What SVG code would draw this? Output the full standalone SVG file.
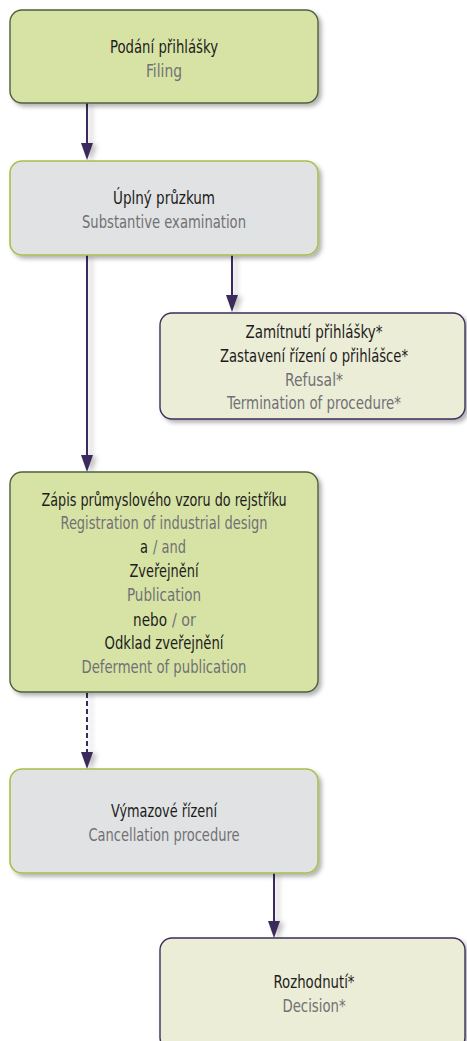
<svg xmlns="http://www.w3.org/2000/svg" width="467" height="1041" viewBox="0 0 467 1041">
<style>
text{font-family:"Liberation Sans Narrow","DejaVu Sans Condensed","Liberation Sans",sans-serif;font-size:18.5px;text-anchor:middle}
text.s{text-anchor:start}
.k{fill:#1c1c1c}
.g{fill:#707174}
.green rect{fill:#d7e3a5;stroke:#4f5f3c;stroke-width:1.4}
.grey rect{fill:#e1e2e3;stroke:#a7c04a;stroke-width:1.6}
.pale rect{fill:#ecedd7;stroke:#3c2e5a;stroke-width:1.4}
.conn line{stroke:#3b2a5c;stroke-width:2;fill:none}
.conn path{fill:#3b2a5c}
.conn .dash{stroke-dasharray:5 3}
</style>
<defs>
<filter id="sh" x="-10%" y="-10%" width="130%" height="130%">
<feDropShadow dx="3" dy="3" stdDeviation="2" flood-color="#000" flood-opacity="0.3"/>
</filter>
<filter id="ash" x="-100%" y="-10%" width="400%" height="130%">
<feDropShadow dx="4" dy="2" stdDeviation="2.5" flood-color="#000" flood-opacity="0.25"/>
</filter>
</defs>

<g id="connectors" class="conn" filter="url(#ash)">
<line x1="87" y1="103" x2="87" y2="144"/>
<path d="M81,143 L93,143 L87,160 Z"/>
<line x1="232" y1="255" x2="232" y2="296"/>
<path d="M226,295 L238,295 L232,312 Z"/>
<line x1="87" y1="255" x2="87" y2="456"/>
<path d="M81,455 L93,455 L87,472 Z"/>
<line class="dash" x1="87" y1="693" x2="87" y2="753"/>
<path d="M81,752 L93,752 L87,769 Z"/>
<line x1="274" y1="873" x2="274" y2="922"/>
<path d="M268,921 L280,921 L274,938 Z"/>
</g>

<g id="filing" class="green">
<rect x="10" y="10" width="308" height="93" rx="12" filter="url(#sh)"/>
<text class="k" x="164" y="53" textLength="108" lengthAdjust="spacingAndGlyphs">Podání přihlášky</text>
<text class="g" x="164" y="77" textLength="36" lengthAdjust="spacingAndGlyphs">Filing</text>
</g>

<g id="examination" class="grey">
<rect x="10" y="161" width="308" height="94" rx="12" filter="url(#sh)"/>
<text class="k" x="164" y="204" textLength="102" lengthAdjust="spacingAndGlyphs">Úplný průzkum</text>
<text class="g" x="164" y="228" textLength="164" lengthAdjust="spacingAndGlyphs">Substantive examination</text>
</g>

<g id="refusal" class="pale">
<rect x="160" y="313" width="305" height="106" rx="12" filter="url(#sh)"/>
<text class="k" x="314" y="338" textLength="137" lengthAdjust="spacingAndGlyphs">Zamítnutí přihlášky*</text>
<text class="k" x="314" y="362" textLength="188" lengthAdjust="spacingAndGlyphs">Zastavení řízení o přihlášce*</text>
<text class="g" x="314" y="386" textLength="58" lengthAdjust="spacingAndGlyphs">Refusal*</text>
<text class="g" x="314" y="409" textLength="174" lengthAdjust="spacingAndGlyphs">Termination of procedure*</text>
</g>

<g id="registration" class="green">
<rect x="10" y="472" width="308" height="220" rx="12" filter="url(#sh)"/>
<text class="k" x="164" y="506" textLength="245" lengthAdjust="spacingAndGlyphs">Zápis průmyslového vzoru do rejstříku</text>
<text class="g" x="164" y="529" textLength="207" lengthAdjust="spacingAndGlyphs">Registration of industrial design</text>
<text class="k s" x="140" y="553" textLength="8" lengthAdjust="spacingAndGlyphs">a</text>
<text class="g s" x="153" y="553" textLength="33" lengthAdjust="spacingAndGlyphs">/ and</text>
<text class="k" x="164" y="577" textLength="69" lengthAdjust="spacingAndGlyphs">Zveřejnění</text>
<text class="g" x="164" y="601" textLength="74" lengthAdjust="spacingAndGlyphs">Publication</text>
<text class="k s" x="133" y="626" textLength="34" lengthAdjust="spacingAndGlyphs">nebo</text>
<text class="g s" x="172" y="626" textLength="24" lengthAdjust="spacingAndGlyphs">/ or</text>
<text class="k" x="164" y="649" textLength="119" lengthAdjust="spacingAndGlyphs">Odklad zveřejnění</text>
<text class="g" x="164" y="673" textLength="165" lengthAdjust="spacingAndGlyphs">Deferment of publication</text>
</g>

<g id="cancellation" class="grey">
<rect x="10" y="769" width="308" height="104" rx="12" filter="url(#sh)"/>
<text class="k" x="164" y="817" textLength="106" lengthAdjust="spacingAndGlyphs">Výmazové řízení</text>
<text class="g" x="164" y="841" textLength="151" lengthAdjust="spacingAndGlyphs">Cancellation procedure</text>
</g>

<g id="decision" class="pale">
<rect x="160" y="938" width="305" height="112" rx="12" filter="url(#sh)"/>
<text class="k" x="314" y="988" textLength="81" lengthAdjust="spacingAndGlyphs">Rozhodnutí*</text>
<text class="g" x="314" y="1012" textLength="63" lengthAdjust="spacingAndGlyphs">Decision*</text>
</g>
</svg>
